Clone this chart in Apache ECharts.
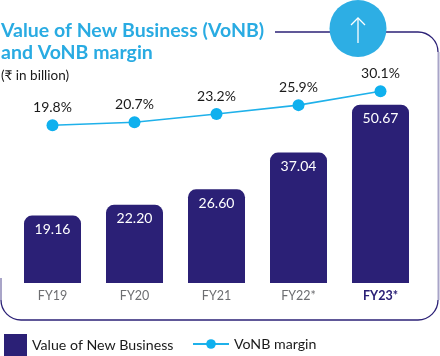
<!DOCTYPE html>
<html lang="en">
<head>
    <meta charset="UTF-8">
    <title>VoNB</title>
    <script src="https://cdn.jsdelivr.net/npm/echarts@6/dist/echarts.min.js"></script>
    <style type="text/css">
        html, body { margin: 0; padding: 0; background: #fff; }
        #main { width: 440px; height: 356px; }
    </style>
</head>
<body>
    <div id="main"></div>
    <script type="text/javascript">
        var categories = ['FY19', 'FY20', 'FY21', 'FY22*', 'FY23*'];
        var vonbValues = [19.16, 22.20, 26.60, 37.04, 50.67];
        var marginValues = [19.8, 20.7, 23.2, 25.9, 30.1];

        var NAVY = '#2b2076';
        var BLUE = '#1fb1ea';

        // frame pieces, all share the same look
        function frameLine(x1, y1, x2, y2, color, width) {
            return {
                type: 'line', silent: true, z: 0,
                shape: { x1: x1, y1: y1, x2: x2, y2: y2 },
                style: { stroke: color || NAVY, lineWidth: width || 1.3 }
            };
        }
        function frameCorner(cx, cy, start) {
            return {
                type: 'arc', silent: true, z: 0,
                shape: { cx: cx, cy: cy, r: 20, startAngle: start, endAngle: start + Math.PI / 2 },
                style: { stroke: NAVY, lineWidth: 1.3, fill: null }
            };
        }

        var chart = echarts.init(document.getElementById('main'), null, { renderer: 'canvas' });
        var option = {
            backgroundColor: '#fff',
            animation: false,
            textStyle: { fontFamily: 'Lato' },
            title: [{
                text: 'Value of New Business (VoNB)\nand VoNB margin',
                left: 1,
                top: 20,
                padding: 0,
                textStyle: { color: '#29abe2', fontSize: 19.5, fontWeight: 'bold', lineHeight: 21.5, fontFamily: 'Lato' }
            }, {
                text: '(₹ in billion)',
                left: 1,
                top: 69,
                padding: 0,
                textStyle: { color: '#1a1a1a', fontSize: 13.5, fontWeight: 'normal', fontFamily: 'Lato' }
            }],
            legend: [{
                data: [{ name: 'Value of New Business', icon: 'rect' }],
                left: 4,
                top: 334,
                padding: 0,
                itemWidth: 23,
                itemHeight: 22,
                itemGap: 6,
                textStyle: { color: '#1a1a1a', fontSize: 14.2, fontFamily: 'Lato', padding: [0, 0, 5, 0] }
            }, {
                data: ['VoNB margin'],
                left: 192,
                top: 337,
                padding: 0,
                itemWidth: 36,
                itemHeight: 12,
                itemGap: 10,
                textStyle: { color: '#1a1a1a', fontSize: 14.2, fontFamily: 'Lato' }
            }],
            grid: { left: 11.5, width: 410, top: 19, height: 264 },
            xAxis: {
                type: 'category',
                data: categories.map(function (c, i) {
                    // last year is highlighted
                    return i === categories.length - 1
                        ? { value: c, textStyle: { color: NAVY, fontWeight: 'bold' } }
                        : c;
                }),
                axisLine: { show: false },
                axisTick: { show: false },
                axisLabel: { color: '#6d6e71', fontSize: 12.5, margin: 6, fontFamily: 'Lato' }
            },
            yAxis: [
                { type: 'value', min: 0, max: 75, show: false },
                { type: 'value', min: -28, max: 52, show: false }
            ],
            series: [{
                name: 'Value of New Business',
                type: 'bar',
                data: vonbValues,
                barWidth: 57,
                itemStyle: { color: NAVY, borderRadius: [8, 8, 0, 0] },
                label: {
                    show: true,
                    position: 'insideTop',
                    distance: 7,
                    color: '#fff',
                    fontSize: 14,
                    fontFamily: 'Lato',
                    formatter: function (p) { return p.value.toFixed(2); }
                }
            }, {
                name: 'VoNB margin',
                type: 'line',
                yAxisIndex: 1,
                data: marginValues,
                symbol: 'circle',
                symbolSize: 12,
                lineStyle: { color: BLUE, width: 1.6 },
                itemStyle: { color: '#0fb0ee' },
                label: {
                    show: true,
                    position: 'top',
                    distance: 5,
                    color: '#1a1a1a',
                    fontSize: 14,
                    fontFamily: 'Lato',
                    formatter: '{c}%'
                }
            }],
            graphic: [
                frameLine(275, 32, 330, 32),
                frameLine(385, 32, 418, 32),
                frameCorner(418, 52, -Math.PI / 2),
                frameLine(438.5, 52, 438.5, 300, '#a9a5c8', 2),
                frameCorner(418, 300, 0),
                frameLine(418, 320, 21, 320),
                frameCorner(21, 300, Math.PI / 2),
                frameLine(1, 300, 1, 278, '#a9a5c8', 2),
                {
                    type: 'circle', silent: true, z: 1,
                    shape: { cx: 358, cy: 28.5, r: 28.5 },
                    style: { fill: '#2daee4' }
                },
                {
                    type: 'polyline', silent: true, z: 2,
                    shape: { points: [[358, 43], [358, 18]] },
                    style: { stroke: '#fff', lineWidth: 1.3, fill: null }
                },
                {
                    type: 'polyline', silent: true, z: 2,
                    shape: { points: [[351, 25], [358, 18], [365, 25]] },
                    style: { stroke: '#fff', lineWidth: 1.3, fill: null }
                }
            ]
        };
        chart.setOption(option);
    </script>
</body>
</html>
